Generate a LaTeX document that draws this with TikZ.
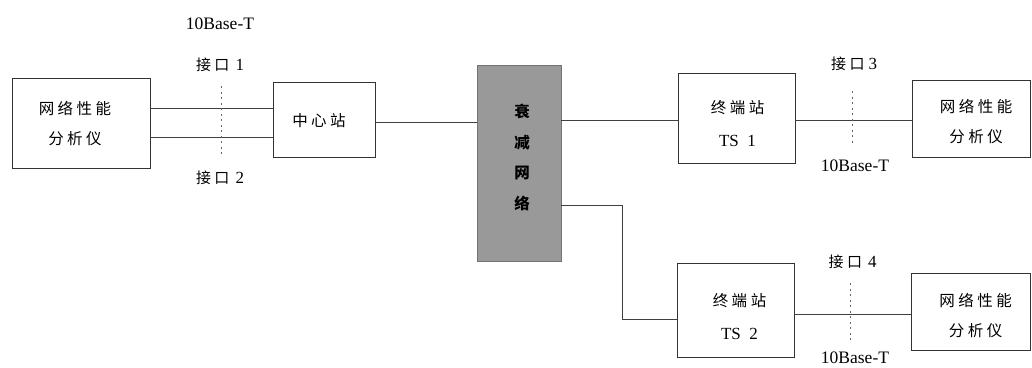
\documentclass[tikz,border=0pt]{standalone}
\usepackage{fontspec}
\setmainfont{Liberation Serif}
\newfontfamily\cjk{Noto Sans CJK SC}
\newcommand{\cg}{\kern3.5pt}
\begin{document}
\begin{tikzpicture}[x=1pt,y=-1pt,
  box/.style={draw=black!80,line width=0.8pt,rectangle,inner sep=0pt},
  txt/.style={align=center,inner sep=0pt,font=\cjk\fontsize{15.5}{30}\selectfont},
  wire/.style={draw=black!75,line width=0.8pt},
  dots/.style={draw=black!60,line width=0.8pt,dash pattern=on 2pt off 3.5pt},
  lbl/.style={font=\fontsize{17.5}{18}\selectfont,inner sep=1pt},
  cjl/.style={font=\cjk\fontsize{15}{18}\selectfont,inner sep=1pt}]
\useasboundingbox (0,0) rectangle (1032,367);
% boxes
\node[box,minimum width=138pt,minimum height=90pt] (an1) at (81,123) {};
\node[box,minimum width=102pt,minimum height=75pt] (cs) at (324,119.5) {};
\node[box,draw=black!55,fill=black!40,minimum width=84pt,minimum height=196pt] (att) at (519,163) {};
\node[box,minimum width=117pt,minimum height=90pt] (ts1) at (736.5,118) {};
\node[box,minimum width=118pt,minimum height=77pt] (an2) at (971,118.5) {};
\node[box,minimum width=117pt,minimum height=94pt] (ts2) at (735.5,310) {};
\node[box,minimum width=119pt,minimum height=77pt] (an3) at (970.5,311.5) {};
% box texts
\node[txt] (an1t) at ([xshift=-6pt,yshift=-1pt]an1.center) {网\cg{}络\cg{}性\cg{}能\\分\cg{}析\cg{}仪};
\node[txt] (cst) at ([xshift=-5pt,yshift=-1.5pt]cs.center) {中\cg{}心\cg{}站};
\node[txt,font=\cjk\bfseries\fontsize{15.5}{30.5}\selectfont] (attt) at ([xshift=3pt,yshift=5.5pt]att.center) {衰\\减\\网\\络};
\node[txt,font=\cjk\fontsize{15.5}{33}\selectfont] (ts1t) at ([xshift=1pt,yshift=-5.5pt]ts1.center) {终\cg{}端\cg{}站\\{\rmfamily\fontsize{17}{18}\selectfont TS\ \ 1}};
\node[txt] (an2t) at ([xshift=5pt,yshift=-3.5pt]an2.center) {网\cg{}络\cg{}性\cg{}能\\分\cg{}析\cg{}仪};
\node[txt,font=\cjk\fontsize{15.5}{33}\selectfont] (ts2t) at ([xshift=4pt,yshift=-6.5pt]ts2.center) {终\cg{}端\cg{}站\\{\rmfamily\fontsize{17}{18}\selectfont TS\ \ 2}};
\node[txt] (an3t) at ([xshift=5pt,yshift=-4.5pt]an3.center) {网\cg{}络\cg{}性\cg{}能\\分\cg{}析\cg{}仪};
% connectors
\draw[wire] ([yshift=15pt]an1.east) -- ([yshift=15pt]an1.east -| cs.west);
\draw[wire] ([yshift=-14pt]an1.east) -- ([yshift=-14pt]an1.east -| cs.west);
\draw[wire] ([yshift=-2.5pt]cs.east) -- ([yshift=-2.5pt]cs.east -| att.west);
\draw[wire] ([yshift=-2pt]ts1.west -| att.east) -- ([yshift=-2pt]ts1.west);
\draw[wire] ([yshift=-42pt]att.east) -- ++(61,0) |- ([yshift=-9pt]ts2.west);
\draw[wire] ([yshift=-2pt]ts1.east) -- ([yshift=-2pt]ts1.east -| an2.west);
\draw[wire] ([yshift=-4pt]ts2.east) -- ([yshift=-4pt]ts2.east -| an3.west);
% dotted interface marks
\coordinate (d1a) at (221,86); \coordinate (d1b) at (221,156);
\coordinate (d3a) at (852,91); \coordinate (d3b) at (852,146);
\coordinate (d4a) at (850,283); \coordinate (d4b) at (850,340);
\draw[dots] (d1a) -- (d1b);
\draw[dots] (d3a) -- (d3b);
\draw[dots] (d4a) -- (d4b);
% labels
\node[lbl] (t1) at (220,24) {10Base-T};
\node[cjl] (i1) at (220,65) {接\cg{}口\kern6pt{\rmfamily\fontsize{17}{18}\selectfont 1}};
\node[cjl] (i2) at (220,178) {接\cg{}口\kern6pt{\rmfamily\fontsize{17}{18}\selectfont 2}};
\node[cjl] (i3) at (854,64) {接\cg{}口\kern4pt{\rmfamily\fontsize{17}{18}\selectfont 3}};
\node[lbl] (t3) at (855,166) {10Base-T};
\node[cjl] (i4) at (852.5,262) {接\cg{}口\kern6pt{\rmfamily\fontsize{17}{18}\selectfont 4}};
\node[lbl] (t4) at (855,358) {10Base-T};
\end{tikzpicture}
\end{document}
